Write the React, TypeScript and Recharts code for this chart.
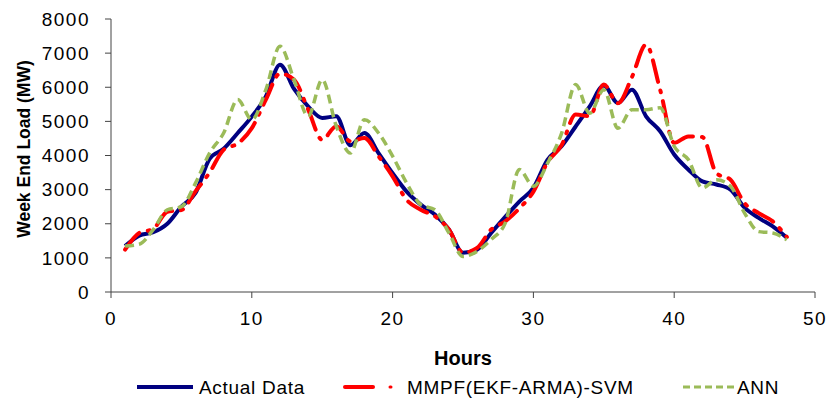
import React from 'react';
import { LineChart, Line, XAxis, YAxis, Legend } from 'recharts';

const hours = Array.from({ length: 48 }, (_, i) => i + 1);
const actualData = [1350, 1650, 1750, 2000, 2500, 2900, 3900, 4200, 4660, 5140, 5730, 6660, 5950, 5440, 5100, 5150, 4300, 4660, 4070, 3480, 2940, 2560, 2270, 1830, 1150, 1240, 1730, 2200, 2650, 3050, 3870, 4270, 4850, 5440, 6050, 5540, 5930, 5150, 4710, 4030, 3590, 3240, 3150, 3000, 2470, 2170, 1920, 1590];
const mmpfData = [1240, 1730, 1850, 2350, 2400, 2950, 3500, 4170, 4350, 4800, 5640, 6400, 6220, 5350, 4460, 4860, 4420, 4510, 3980, 3390, 2700, 2410, 2220, 1830, 1150, 1290, 1830, 2070, 2450, 2940, 3800, 4300, 5200, 5150, 6080, 5530, 6300, 7250, 5930, 4370, 4560, 4540, 3480, 3290, 2600, 2310, 2070, 1610];
const annData = [1350, 1400, 1830, 2410, 2500, 3190, 4070, 4660, 5640, 5050, 5930, 7200, 6220, 5150, 6220, 4860, 4070, 5050, 4660, 3980, 3190, 2560, 2410, 1730, 1040, 1190, 1540, 2020, 3590, 3100, 3770, 4650, 6080, 5240, 5930, 4800, 5340, 5340, 5400, 4270, 3880, 3050, 3290, 3100, 2310, 1770, 1730, 1530];
const xTicks = [0, 10, 20, 30, 40, 50];
const yTicks = [0, 1000, 2000, 3000, 4000, 5000, 6000, 7000, 8000];

const seriesNames = ['Actual Data', 'MMPF(EKF-ARMA)-SVM', 'ANN'];
const yTitle = 'Week End Load (MW)';
const xTitle = 'Hours';

const data = hours.map((h, i) => ({
  h,
  actual: actualData[i],
  mmpf: mmpfData[i],
  ann: annData[i],
}));

const FONT = '"Liberation Sans", Arial, sans-serif';

const LegendContent = () => (
  <svg width={830} height={24} style={{ display: 'block' }}>
    <g fontFamily={FONT} fontSize={19} letterSpacing={0.7} fill="#000">
      <line x1={137} y1={12} x2={193} y2={12} stroke="#000080" strokeWidth={4} />
      <text x={199} y={19}>{seriesNames[0]}</text>
      <line x1={345} y1={12} x2={373} y2={12} stroke="#FF0000" strokeWidth={4} strokeLinecap="round" />
      <line x1={390} y1={12} x2={391} y2={12} stroke="#FF0000" strokeWidth={3} strokeLinecap="round" />
      <text x={407} y={19}>{seriesNames[1]}</text>
      <line x1={683} y1={12} x2={735} y2={12} stroke="#9BBB59" strokeWidth={3} strokeDasharray="7 4" />
      <text x={737} y={19}>{seriesNames[2]}</text>
    </g>
  </svg>
);

const YTitle = () => (
  <text
    x={24}
    y={149}
    transform="rotate(-90 24 149)"
    textAnchor="middle"
    dominantBaseline="central"
    fontFamily={FONT}
    fontSize={17.5}
    fontWeight="bold"
    fill="#000"
  >
    {yTitle}
  </text>
);

export default function App() {
  return (
    <div style={{ position: 'absolute', left: 0, top: 0, width: 830, height: 403, background: '#fff' }}>
      <LineChart width={830} height={403} data={data} margin={{ top: 19, right: 15, left: 0, bottom: 0 }}>
        <XAxis
          dataKey="h"
          type="number"
          domain={[0, 50]}
          ticks={xTicks}
          stroke="#444"
          tickSize={6}
          tickMargin={14}
          tick={{ fill: '#000', fontSize: 19, fontFamily: FONT, letterSpacing: 1.5 }}
          height={87}
          label={{ value: xTitle, position: 'insideBottom', offset: 14, fill: '#000', fontSize: 20, fontWeight: 'bold', fontFamily: FONT }}
        />
        <YAxis
          type="number"
          domain={[0, 8000]}
          ticks={yTicks}
          width={111}
          stroke="#444"
          tickSize={6}
          tickMargin={15}
          tick={{ fill: '#000', fontSize: 19, fontFamily: FONT, letterSpacing: 1.5 }}
          label={{ content: YTitle }}
        />
        <Legend verticalAlign="bottom" content={LegendContent} wrapperStyle={{ left: 0, bottom: 4 }} />
        <Line dataKey="actual" name={seriesNames[0]} type="monotone" stroke="#000080" strokeWidth={4} dot={false} isAnimationActive={false} />
        <Line dataKey="mmpf" name={seriesNames[1]} type="monotone" stroke="#FF0000" strokeWidth={4} strokeDasharray="22 9 2 9" strokeLinecap="round" dot={false} isAnimationActive={false} />
        <Line dataKey="ann" name={seriesNames[2]} type="monotone" stroke="#9BBB59" strokeWidth={3.5} strokeDasharray="9 5" dot={false} isAnimationActive={false} />
      </LineChart>
    </div>
  );
}
